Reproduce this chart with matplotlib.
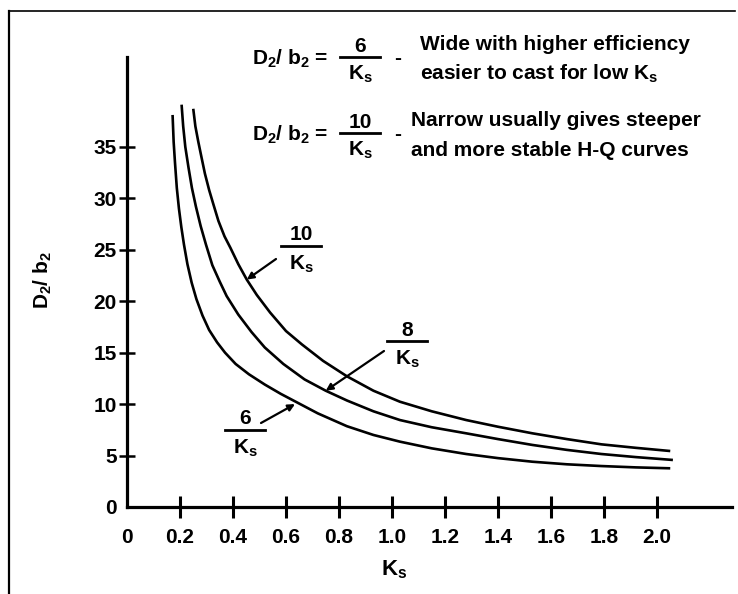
import matplotlib
matplotlib.use("Agg")
import matplotlib.pyplot as plt
from matplotlib.lines import Line2D

# curves: (Ks, D2/b2)
ks6 = [0.172, 0.176, 0.181, 0.188, 0.196, 0.205, 0.215, 0.228, 0.244, 0.262, 0.285, 0.31, 0.34, 0.37, 0.41,
       0.46, 0.52, 0.58, 0.65, 0.72, 0.83, 0.93, 1.03, 1.15, 1.28, 1.40, 1.53, 1.66, 1.79, 1.92, 2.05]
d6 = [38.1, 35.5, 33.5, 31.0, 29.0, 27.2, 25.5, 23.6, 21.8, 20.2, 18.6, 17.2, 16.0, 15.0, 13.9,
      12.9, 11.9, 11.0, 10.05, 9.1, 7.85, 7.0, 6.35, 5.7, 5.15, 4.75, 4.40, 4.15, 3.98, 3.85, 3.76]
ks8 = [0.206, 0.212, 0.220, 0.232, 0.245, 0.260, 0.278, 0.298, 0.322, 0.350, 0.376, 0.42, 0.47, 0.52, 0.59,
       0.67, 0.75, 0.83, 0.93, 1.03, 1.15, 1.28, 1.40, 1.53, 1.66, 1.79, 1.92, 2.06]
d8 = [39.1, 37.0, 35.0, 33.0, 31.0, 29.2, 27.3, 25.5, 23.5, 21.9, 20.5, 18.7, 17.0, 15.5, 13.9,
      12.4, 11.3, 10.35, 9.3, 8.45, 7.75, 7.16, 6.6, 6.03, 5.55, 5.15, 4.85, 4.57]
ks10 = [0.250, 0.258, 0.269, 0.281, 0.294, 0.31, 0.325, 0.345, 0.368, 0.39, 0.42, 0.452, 0.49, 0.54, 0.60,
        0.66, 0.74, 0.83, 0.93, 1.03, 1.15, 1.28, 1.40, 1.53, 1.66, 1.79, 1.92, 2.05]
d10 = [38.7, 37.0, 35.5, 34.0, 32.4, 30.8, 29.5, 27.8, 26.3, 25.2, 23.6, 22.1, 20.6, 18.9, 17.1,
       15.8, 14.2, 12.7, 11.3, 10.23, 9.3, 8.45, 7.8, 7.16, 6.6, 6.09, 5.75, 5.44]

xticks = [0, 0.2, 0.4, 0.6, 0.8, 1.0, 1.2, 1.4, 1.6, 1.8, 2.0]
xticklabels = ["0", "0.2", "0.4", "0.6", "0.8", "1.0", "1.2", "1.4", "1.6", "1.8", "2.0"]
yticks = [0, 5, 10, 15, 20, 25, 30, 35]

W, H = 738, 594
plt.rcParams.update({
    "font.family": ["Liberation Sans", "DejaVu Sans"],
    "font.weight": "bold",
    "mathtext.fontset": "custom",
    "mathtext.rm": "Liberation Sans:bold",
    "mathtext.it": "Liberation Sans:bold",
    "mathtext.bf": "Liberation Sans:bold",
})

fig = plt.figure(figsize=(W / 100, H / 100), dpi=100)
ax = fig.add_axes([127 / W, 87 / H, 605 / W, 450 / H])

def fx(x):
    return x / W

def fy(y):
    return 1 - y / H

for ks, d in [(ks6, d6), (ks8, d8), (ks10, d10)]:
    ax.plot(ks, d, color="black", lw=1.9, solid_capstyle="butt", solid_joinstyle="round")

ax.set_xlim(0, 605 / 265)
ax.set_ylim(0, 450 / 10.29)
for s in ["top", "right"]:
    ax.spines[s].set_visible(False)
for s in ["left", "bottom"]:
    ax.spines[s].set_linewidth(2.3)

ax.set_xticks(xticks)
ax.set_xticklabels(xticklabels)
ax.set_yticks(yticks)
ax.set_yticklabels([str(v) for v in yticks])
ax.tick_params(axis="x", direction="inout", length=16, width=2.2, pad=7, labelsize=15)
ax.tick_params(axis="y", direction="inout", length=12, width=1.8, pad=1.5, labelsize=15)
ax.xaxis.get_major_ticks()[0].tick1line.set_visible(False)
ax.yaxis.get_major_ticks()[0].tick1line.set_visible(False)

# axis labels
fig.text(fx(394), fy(570), r"$K_s$", fontsize=16, ha="center", va="center")
fig.text(fx(43), fy(280), r"$D_2/\ b_2$", fontsize=15, ha="center", va="center", rotation=90)

# header formulas
fs = 15
for yc, num, l1, l2, x2 in [(59, "6", "Wide with higher efficiency", r"easier to cast for low $K_s$", 420),
                            (135, "10", "Narrow usually gives steeper", "and more stable H-Q curves", 411)]:
    fig.text(fx(252), fy(yc), r"$D_2/\ b_2$ =", fontsize=fs, ha="left", va="center")
    fig.text(fx(360), fy(yc - 13), num, fontsize=fs, ha="center", va="center")
    fig.add_artist(Line2D([fx(340), fx(380)], [fy(yc - 2), fy(yc - 2)], color="black", lw=2))
    fig.text(fx(360), fy(yc + 15), r"$K_s$", fontsize=fs, ha="center", va="center")
    fig.text(fx(398), fy(yc), "-", fontsize=fs, ha="center", va="center")
    fig.text(fx(x2), fy(yc - 14), l1, fontsize=fs, ha="left", va="center")
    fig.text(fx(x2), fy(yc + 15), l2, fontsize=fs, ha="left", va="center")

# curve labels with arrows
for num, xc, ybar, tail, head in [("10", 301, 246, (276, 259), (0.452, 22.1)),
                                  ("8", 407, 341, (384, 351), (0.75, 11.3)),
                                  ("6", 245, 430, (261, 423), (0.634, 10.0))]:
    fig.text(fx(xc), fy(ybar - 11), num, fontsize=fs, ha="center", va="center")
    fig.add_artist(Line2D([fx(xc - 20), fx(xc + 20)], [fy(ybar), fy(ybar)], color="black", lw=2))
    fig.text(fx(xc), fy(ybar + 18), r"$K_s$", fontsize=fs, ha="center", va="center")
    ax.annotate("", xy=head, xycoords="data", xytext=(tail[0], H - tail[1]), textcoords="figure pixels",
                arrowprops=dict(arrowstyle="-|>", color="black", lw=1.6, mutation_scale=10,
                                shrinkA=0, shrinkB=0))

# scan border
fig.add_artist(Line2D([fx(9), fx(9)], [fy(11), fy(H)], color="black", lw=1.6))
fig.add_artist(Line2D([fx(9), fx(W - 3)], [fy(11), fy(11)], color="black", lw=1.2))

fig.savefig("out.png", dpi=100)
